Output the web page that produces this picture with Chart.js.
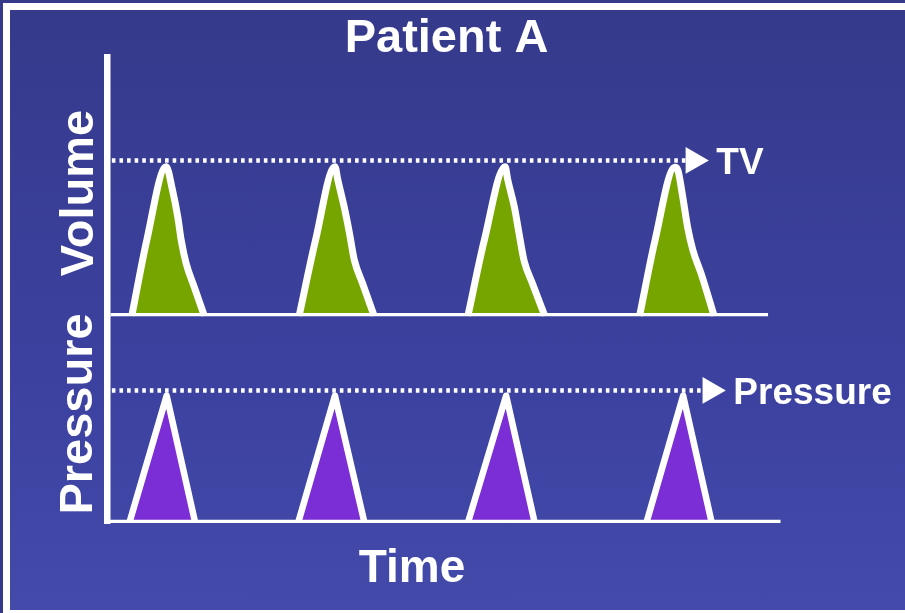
<!DOCTYPE html>
<html>
<head>
<meta charset="utf-8">
<script src="https://cdn.jsdelivr.net/npm/chart.js@4.4.1/dist/chart.umd.min.js"></script>
<style>
  html, body { margin: 0; padding: 0; width: 905px; height: 613px; overflow: hidden; background: #36398a; }
  #slide {
    position: absolute; left: 3px; top: 3px; width: 940px; height: 614px;
    box-sizing: border-box; border: 7px solid #ffffff;
    background: linear-gradient(180deg, #363a8b 0%, #3c41a0 60%, #434aa9 100%);
  }
  #chart { position: absolute; left: 0; top: 0; }
</style>
</head>
<body>
<div id="slide"></div>
<canvas id="chart" width="905" height="613"></canvas>
<script>
// Four breaths, one inner array per breath: time in seconds, lung volume in mL
const volumeTimes = [
  [0.51, 0.82, 1.22, 1.35, 1.46, 1.53, 1.63, 1.80, 2.01],
  [3.96, 4.30, 4.70, 4.76, 4.89, 5.00, 5.10, 5.27, 5.51],
  [7.44, 7.78, 8.21, 8.26, 8.40, 8.50, 8.60, 8.78, 9.03],
  [10.98, 11.30, 11.71, 11.77, 11.87, 11.97, 12.08, 12.25, 12.52]
];
const volumeValues = [
  [0, 244, 480, 405, 318, 244, 170, 93, 0],
  [0, 244, 480, 437, 351, 266, 180, 105, 0],
  [0, 244, 480, 440, 350, 262, 178, 102, 0],
  [0, 244, 478, 469, 384, 287, 212, 137, 0]
];
// Airway pressure in cmH2O, same four breaths
const pressureTimes = [
  [0.46, 1.23, 1.82],
  [3.94, 4.70, 5.31],
  [7.44, 8.23, 8.82],
  [11.12, 11.88, 12.47]
];
const pressureValues = [
  [0, 24, 0],
  [0, 24, 0],
  [0, 24, 0],
  [0, 24, 0]
];

// Target levels shown as dotted reference lines
const tidalVolume = 500;      // mL
const pressureLevel = 25;     // cmH2O
const tvLineTimes = [0.10, 12.09];
const pressureLineTimes = [0.10, 12.44];

// Time span of each panel's base line
const volumeAxisTimes = [0.08, 13.63];
const pressureAxisTimes = [0, 13.82];

// Axis ranges
const timeRange = [0, 14];
const volumeRange = [0, 830];
const pressureRange = [0, 39];

// Texts
const chartTitle = 'Patient A';
const tvLabel = 'TV';
const pressureLabel = 'Pressure';
const axisNames = [
  { text: 'Volume',   x: 92.5, y: 193,   angle: -90, size: 47 },
  { text: 'Pressure', x: 92.0, y: 414,   angle: -90, size: 47 },
  { text: 'Time',     x: 412,  y: 581.5, angle: 0,   size: 46 }
];

const FONT = '"Liberation Sans", Arial, sans-serif';
const WHITE = '#ffffff';

// Joins the breaths into one point list, with a gap after each breath
const breathPoints = (times, values) => times.flatMap((ts, b) => [
  ...ts.map((x, i) => ({ x, y: values[b][i] })),
  { x: ts[ts.length - 1], y: null }
]);
const level = (xs, v) => xs.map(x => ({ x, y: v }));

// Writes the axis names and the labels at the arrow ends of the reference lines
const slideText = {
  id: 'slideText',
  afterDatasetsDraw(chart) {
    const ctx = chart.ctx;
    ctx.save();
    ctx.fillStyle = WHITE;
    ctx.textBaseline = 'alphabetic';

    chart.data.datasets.forEach((ds, i) => {
      if (!ds.endLabel) return;
      const meta = chart.getDatasetMeta(i);
      const tip = meta.data[meta.data.length - 1];
      const r = ds.pointRadius[ds.pointRadius.length - 1];
      ctx.font = 'bold 37px ' + FONT;
      ctx.textAlign = 'left';
      ctx.fillText(ds.endLabel, tip.x + r + 7.5, tip.y + 13.2);
    });

    ctx.textAlign = 'center';
    for (const a of axisNames) {
      ctx.save();
      ctx.font = 'bold ' + a.size + 'px ' + FONT;
      ctx.translate(a.x, a.y);
      ctx.rotate(a.angle * Math.PI / 180);
      ctx.fillText(a.text, 0, 0);
      ctx.restore();
    }
    ctx.restore();
  }
};

const refLine = (label, xs, value, axis) => ({
  label,
  endLabel: label,
  data: level(xs, value),
  yAxisID: axis,
  borderColor: WHITE,
  borderWidth: 4.5,
  borderDash: [3.6, 4.0],
  fill: false,
  pointStyle: 'triangle',
  pointRotation: 90,
  pointRadius: [0, 15.5],
  pointBackgroundColor: WHITE,
  pointBorderWidth: 0,
  order: 1
});

const baseLine = (xs, axis, cap) => ({
  label: axis + ' base',
  data: level(xs, 0),
  yAxisID: axis,
  borderColor: WHITE,
  borderWidth: 6.5,
  borderCapStyle: cap,
  pointRadius: 0,
  fill: false,
  order: 0
});

const panelAxis = (range, weight) => ({
  type: 'linear',
  position: 'left',
  stack: 'panels',
  stackWeight: weight,
  min: range[0],
  max: range[1],
  ticks: { display: false },
  grid: { display: false, drawTicks: false },
  border: { display: true, color: WHITE, width: 6.5 }
});

new Chart(document.getElementById('chart'), {
  type: 'line',
  data: {
    datasets: [
      {
        label: 'Volume',
        data: breathPoints(volumeTimes, volumeValues),
        yAxisID: 'volume',
        borderColor: WHITE,
        borderWidth: 7,
        borderJoinStyle: 'round',
        backgroundColor: '#77a500',
        fill: 'origin',
        cubicInterpolationMode: 'monotone',
        spanGaps: false,
        pointRadius: 0,
        order: 2
      },
      {
        label: 'Pressure',
        data: breathPoints(pressureTimes, pressureValues),
        yAxisID: 'pressure',
        borderColor: WHITE,
        borderWidth: 6.5,
        borderJoinStyle: 'round',
        backgroundColor: '#7b2dd6',
        fill: 'origin',
        tension: 0,
        spanGaps: false,
        pointRadius: 0,
        order: 2
      },
      refLine(tvLabel, tvLineTimes, tidalVolume, 'volume'),
      refLine(pressureLabel, pressureLineTimes, pressureLevel, 'pressure'),
      baseLine(volumeAxisTimes, 'volume', 'butt'),
      baseLine(pressureAxisTimes, 'pressure', 'square')
    ]
  },
  options: {
    responsive: false,
    animation: false,
    events: [],
    layout: { padding: { left: 107, right: 119, top: 0, bottom: 90 } },
    plugins: {
      legend: { display: false },
      tooltip: { enabled: false },
      title: {
        display: true,
        text: chartTitle,
        color: WHITE,
        font: { family: FONT, size: 47, weight: 'bold', lineHeight: 0.78 },
        padding: { top: 21, bottom: 0 }
      }
    },
    scales: {
      x: { type: 'linear', min: timeRange[0], max: timeRange[1], display: false },
      pressure: panelAxis(pressureRange, 4),
      volume: panelAxis(volumeRange, 5)
    }
  },
  plugins: [slideText]
});
</script>
</body>
</html>
